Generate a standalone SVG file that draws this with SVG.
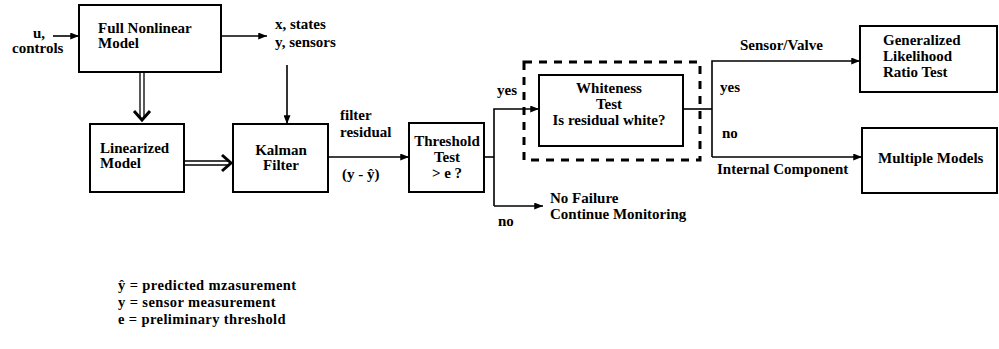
<svg xmlns="http://www.w3.org/2000/svg" width="999" height="349" viewBox="0 0 999 349">
<style>
text{font-family:"Liberation Serif","DejaVu Serif",serif;font-weight:bold;font-size:15px;fill:#000}
.box{fill:#fff;stroke:#000;stroke-width:2}
.ln{fill:none;stroke:#000;stroke-width:1.6}
.dbl{fill:none;stroke:#000;stroke-width:1.3}
.chev{fill:none;stroke:#000;stroke-width:3}
.mid{text-anchor:middle}
.leg{font-size:14.5px;letter-spacing:0.4px}
</style>
<defs>
<marker id="ah" viewBox="0 0 10 8" refX="10" refY="4" markerWidth="10" markerHeight="7" markerUnits="userSpaceOnUse" orient="auto">
<path d="M0,0 L10,4 L0,8 Z" fill="#000"/>
</marker>
</defs>
<rect width="999" height="349" fill="#fff"/>
<g id="full-model"><rect class="box" x="79" y="5" width="142" height="67"/><text x="98" y="33">Full Nonlinear</text><text x="98" y="48">Model</text></g>
<g id="linearized"><rect class="box" x="90" y="124" width="94" height="68"/><text x="100" y="153">Linearized</text><text x="100" y="168">Model</text></g>
<g id="kalman"><rect class="box" x="233" y="124" width="95" height="68"/><text class="mid" x="281" y="155">Kalman</text><text class="mid" x="281" y="170">Filter</text></g>
<g id="threshold"><rect class="box" x="409" y="123" width="75" height="69"/><text class="mid" x="447" y="146">Threshold</text><text class="mid" x="447" y="162">Test</text><text class="mid" x="447" y="178">&gt; e ?</text></g>
<g id="whiteness"><rect x="524" y="62" width="176" height="98" fill="none" stroke="#000" stroke-width="3" stroke-dasharray="8,7"/><rect class="box" x="539" y="75" width="144" height="71"/><text class="mid" x="609" y="93">Whiteness</text><text class="mid" x="609" y="109">Test</text><text class="mid" x="609" y="125">Is residual white?</text></g>
<g id="glrt"><rect class="box" x="860" y="26" width="137" height="66"/><text x="883" y="45">Generalized</text><text x="883" y="61">Likelihood</text><text x="883" y="77">Ratio Test</text></g>
<g id="multiple"><rect class="box" x="862" y="128" width="135" height="65"/><text x="878" y="163">Multiple Models</text></g>
<g id="connectors">
<path class="ln" d="M53,36 H79" marker-end="url(#ah)"/>
<path class="ln" d="M221,36 H267" marker-end="url(#ah)"/>
<path class="ln" d="M287,65 V124" marker-end="url(#ah)"/>
<path class="ln" d="M328,157 H409" marker-end="url(#ah)"/>
<path class="ln" d="M484,157 H494"/>
<path class="ln" d="M494,206 V109 H539" marker-end="url(#ah)"/>
<path class="ln" d="M494,206 H543" marker-end="url(#ah)"/>
<path class="ln" d="M683,109 H712"/>
<path class="ln" d="M712,157 V61 H860" marker-end="url(#ah)"/>
<path class="ln" d="M712,157 H862" marker-end="url(#ah)"/>
<path class="dbl" d="M140,72 V118 M144,72 V118"/>
<path class="chev" d="M134,111 L142,120 L150,111"/>
<path class="dbl" d="M184,161 H228 M184,165 H228"/>
<path class="chev" d="M222,155 L231,163 L222,171"/>
</g>
<g id="labels">
<text x="33" y="38">u,</text>
<text x="12" y="53">controls</text>
<text x="275" y="29">x, states</text>
<text x="275" y="47">y, sensors</text>
<text x="340" y="120">filter</text>
<text x="340" y="137">residual</text>
<text x="342" y="179">(y - ŷ)</text>
<text x="497" y="95">yes</text>
<text x="498" y="226">no</text>
<text x="550" y="203">No Failure</text>
<text x="550" y="219">Continue Monitoring</text>
<text x="740" y="50">Sensor/Valve</text>
<text x="720" y="92">yes</text>
<text x="722" y="138">no</text>
<text x="717" y="174">Internal Component</text>
</g>
<g id="legend">
<text class="leg" x="118" y="290">ŷ = predicted mzasurement</text>
<text class="leg" x="118" y="307">y = sensor measurement</text>
<text class="leg" x="118" y="324">e = preliminary threshold</text>
</g>
</svg>
